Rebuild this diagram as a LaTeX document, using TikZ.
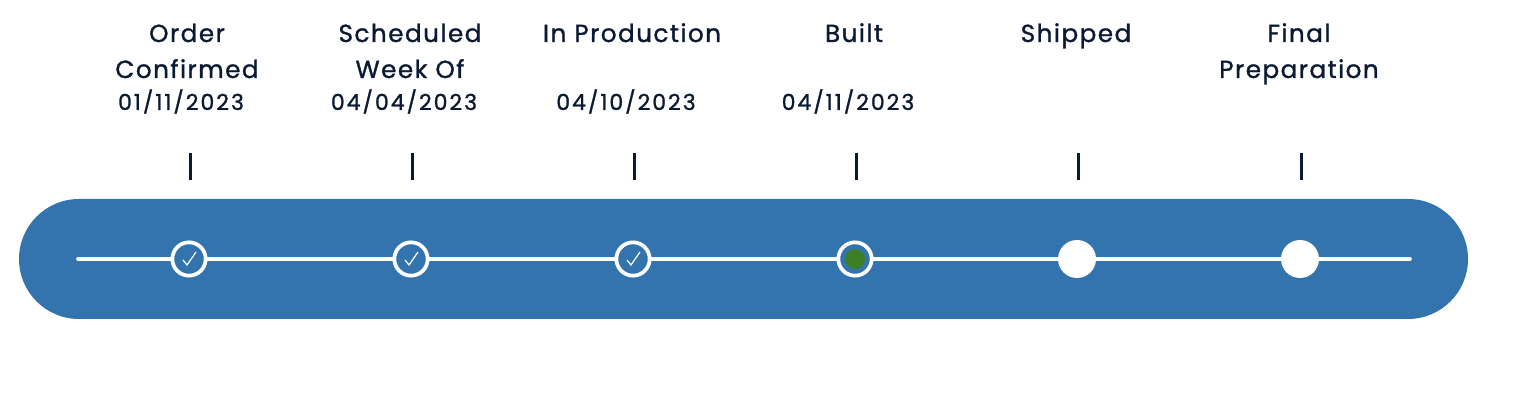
\documentclass[tikz,border=0pt]{standalone}
\usepackage{fontspec}
\setmainfont{Poppins}[FakeBold=1.2]
\usepackage{tikz}
\usetikzlibrary{positioning}
\definecolor{trackblue}{HTML}{3474AE}
\definecolor{inkblue}{HTML}{0B1A33}
\definecolor{builtgreen}{HTML}{3C7F24}

\begin{document}
\begin{tikzpicture}[x=0.75pt, y=-0.75pt,
  title/.style={font=\fontsize{18.5}{27}\selectfont\addfontfeatures{LetterSpace=6}, text=inkblue, align=center, anchor=base},
  date/.style={font=\fontsize{16.5}{18}\selectfont\addfontfeatures{LetterSpace=9}, text=inkblue, anchor=base},
  stage/.style={circle, draw=white, line width=2.8pt, fill=trackblue, minimum size=25pt, inner sep=0pt},
  todo/.style={circle, fill=white, minimum size=28.5pt, inner sep=0pt},
  track/.style={white, line width=2.8pt, line cap=round},
  stem/.style={inkblue, line width=2.25pt}]
\useasboundingbox (0,0) rectangle (1538,416);
\fill[trackblue, rounded corners=45pt] (19,199) rectangle (1468,319);
\coordinate (L) at (78,259);
\coordinate (R) at (1410,259);
% stages
\node[stage] (s1) at (189,259) {};
\node[stage] (s2) at (411,259) {};
\node[stage] (s3) at (633,259) {};
\node[stage] (s4) at (855,259) {};
\node[todo] (s5) at (1077,259) {};
\node[todo] (s6) at (1300,259) {};
\draw[track] (L) -- (s1) (s1) -- (s2) (s2) -- (s3) (s3) -- (s4) (s4) -- (s5) (s5) -- (s6) (s6) -- (R);
\foreach \s in {s1,s2,s3}
  \draw[white, line width=0.9pt] ([shift={(-6,1)}]\s.center) -- ++(4,5) -- ++(9,-13);
\fill[builtgreen] (s4.center) circle (7.5pt);
\foreach \s in {s1,s2,s3,s4,s5,s6}
  \draw[stem] (\s.center) ++(1,-106) -- ++(0,27);
% labels (base = last line)
\node[title] (t1) at (187,78) {Order\\Confirmed};
\node[title] (t2) at (410,78) {Scheduled\\Week Of};
\node[title] (t3) at (632,42) {In Production};
\node[title] (t4) at (854,42) {Built};
\node[title] (t5) at (1076,42) {Shipped};
\node[title] (t6) at (1299,78) {Final\\Preparation};
\node[date] (d1) at (181,110) {01/11/2023};
\node[date] (d2) at (404,110) {04/04/2023};
\node[date] (d3) at (626,110) {04/10/2023};
\node[date] (d4) at (848,110) {04/11/2023};
\end{tikzpicture}
\end{document}
